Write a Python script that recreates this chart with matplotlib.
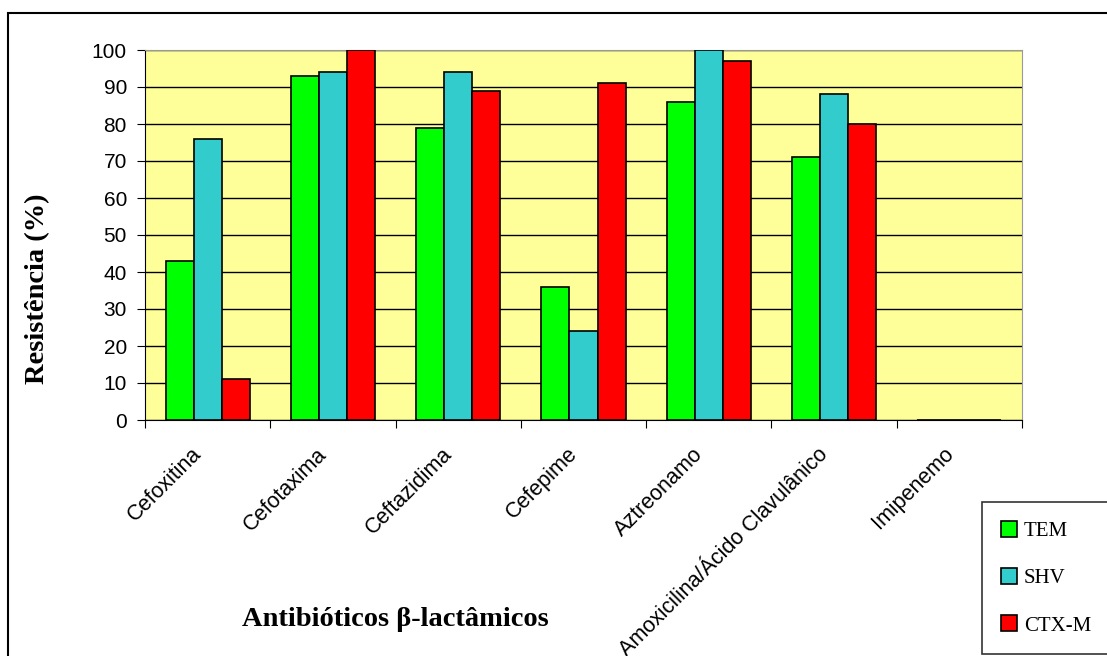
import matplotlib.pyplot as plt
import numpy as np
from matplotlib.patches import Rectangle
from matplotlib.transforms import ScaledTranslation

categories = ['Cefoxitina', 'Cefotaxima', 'Ceftazidima', 'Cefepime',
              'Aztreonamo', 'Amoxicilina/Ácido Clavulânico', 'Imipenemo']
tem = [43, 93, 79, 36, 86, 71, 0]
shv = [76, 94, 94, 24, 100, 88, 0]
ctxm = [11, 100, 89, 91, 97, 80, 0]
series = ['TEM', 'SHV', 'CTX-M']
colors = ['#00FF00', '#33CCCC', '#FF0000']

fig = plt.figure(figsize=(11.07, 6.56), dpi=100)
ax = fig.add_axes([145 / 1107, 236 / 656, 877 / 1107, 370 / 656])
ax.set_facecolor('#FFFF99')

x = np.arange(len(categories))
w = 0.224
for i, (vals, name, c) in enumerate(zip([tem, shv, ctxm], series, colors)):
    ax.bar(x + (i - 1) * w, vals, w, color=c, edgecolor='black',
           linewidth=1.2, label=name, zorder=3)

ax.set_xlim(-0.5, len(categories) - 0.5)
ax.set_ylim(0, 100)
ax.set_yticks(range(0, 101, 10))
ax.yaxis.grid(True, color='black', linewidth=1)
ax.set_axisbelow(True)

# ticks sit between the categories, labels are drawn under each group
ax.set_xticks(np.arange(-0.5, len(categories), 1))
ax.set_xticklabels([])
ax.tick_params(axis='x', length=6, direction='out', color='black')
shift = ScaledTranslation(-0.09, -0.31, fig.dpi_scale_trans)
for xi, name in zip(x, categories):
    ax.text(xi, 0, name, transform=ax.get_xaxis_transform() + shift,
            rotation=45, ha='right', va='center', rotation_mode='anchor',
            fontsize=15.5, family='Liberation Sans')

ax.tick_params(axis='y', length=6, direction='out', labelsize=15, pad=7)
for lab in ax.get_yticklabels():
    lab.set_family('Liberation Sans')

for s in ['top', 'right']:
    ax.spines[s].set_color('#999999')
for s in ['left', 'bottom']:
    ax.spines[s].set_color('black')

fig.text(38 / 1107, 1 - 289 / 656, 'Resistência (%)', rotation=90,
         ha='center', va='center', fontsize=20.5, fontweight='bold',
         family='Liberation Serif')
fig.text(395 / 1107, 1 - 620 / 656, 'Antibióticos β-lactâmicos',
         ha='center', va='center', fontsize=20.5, fontweight='bold',
         family='Liberation Serif')

leg = fig.legend(loc='upper left', bbox_to_anchor=(982 / 1107, 1 - 502 / 656),
                 frameon=True, fancybox=False, edgecolor='black',
                 prop={'family': 'Liberation Serif', 'size': 15},
                 handlelength=0.8, handleheight=0.8, handletextpad=0.3,
                 labelspacing=1.3, borderpad=0.9, borderaxespad=0)
leg.get_frame().set_linewidth(1.2)

fig.patches.append(Rectangle((8 / 1107, -0.1), 1.2, 1 - 13 / 656 + 0.1,
                             transform=fig.transFigure, fill=False,
                             edgecolor='black', linewidth=1.5))

fig.savefig('out.png', dpi=100)
